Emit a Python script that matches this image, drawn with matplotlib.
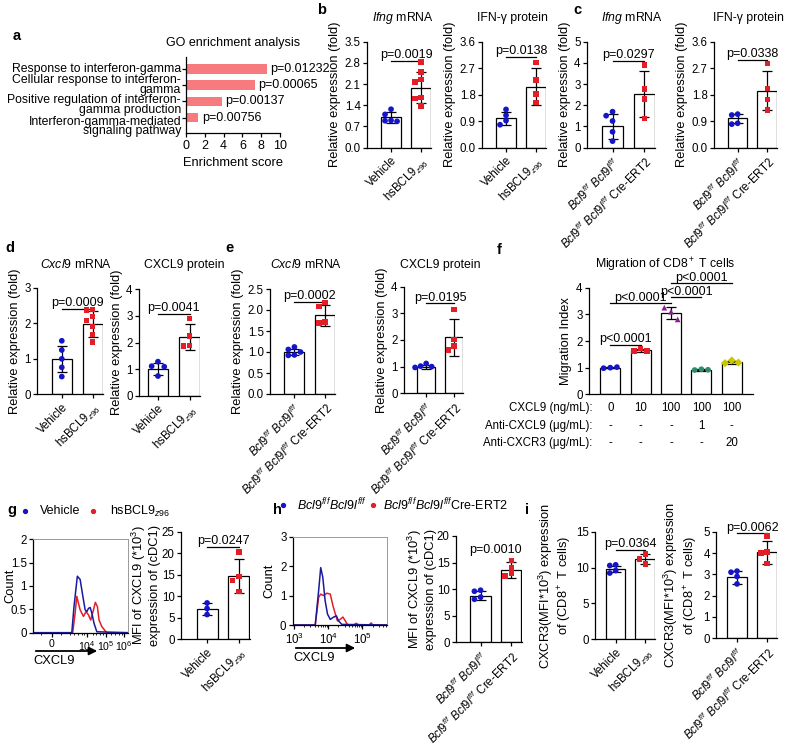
import numpy as np
import matplotlib
matplotlib.use('Agg')
import matplotlib.pyplot as plt
from matplotlib.patches import FancyArrowPatch
from matplotlib.lines import Line2D

plt.rcParams['font.family'] = ['Liberation Sans', 'DejaVu Sans']
plt.rcParams['mathtext.fontset'] = 'custom'
plt.rcParams['mathtext.rm'] = 'Liberation Sans'
plt.rcParams['mathtext.it'] = 'Liberation Sans:italic'
plt.rcParams['mathtext.bf'] = 'Liberation Sans:bold'
plt.rcParams['font.size'] = 8
plt.rcParams['axes.linewidth'] = 0.9
plt.rcParams['xtick.major.width'] = 0.9
plt.rcParams['ytick.major.width'] = 0.9
plt.rcParams['xtick.major.size'] = 3
plt.rcParams['ytick.major.size'] = 3
plt.rcParams['xtick.major.pad'] = 2
plt.rcParams['ytick.major.pad'] = 1.5

# ---------------- data ----------------
go_terms = ["Response to interferon-gamma",
            "Cellular response to interferon-\ngamma",
            "Positive regulation of interferon-\ngamma production",
            "Interferon-gamma-mediated\nsignaling pathway"]
go_scores = [8.6, 7.3, 3.8, 1.3]
go_pvals = ["p=0.01232", "p=0.00065", "p=0.00137", "p=0.00756"]

lab_hs = ["Vehicle", r"hsBCL9$_{z96}$"]
lab_ko = [r"$\mathit{Bcl9}^{f/f}\ \mathit{Bcl9l}^{f/f}$",
          r"$\mathit{Bcl9}^{f/f}\ \mathit{Bcl9l}^{f/f}$ Cre-ERT2"]

# b
b_mrna_veh = [1.27, 1.10, 0.90, 0.89, 0.87]
b_mrna_hs = [2.83, 2.50, 2.26, 2.17, 1.66, 1.62, 1.38]
b_mrna_mean = [1.0, 1.98]
b_mrna_sd = [0.18, 0.52]
b_prot_veh = [1.30, 1.10, 0.92, 0.78]
b_prot_hs = [2.90, 2.30, 1.83, 1.53]
b_prot_mean = [1.0, 2.07]
b_prot_sd = [0.22, 0.62]
# c
c_mrna_wt = [1.70, 1.51, 1.26, 0.75, 0.31]
c_mrna_ko = [3.90, 2.77, 2.30, 1.38]
c_mrna_mean = [1.0, 2.52]
c_mrna_sd = [0.60, 1.08]
c_prot_wt = [1.14, 1.11, 0.83, 0.80]
c_prot_ko = [2.86, 2.01, 1.64, 1.28]
c_prot_mean = [1.0, 1.94]
c_prot_sd = [0.15, 0.67]
# d
d_mrna_veh = [1.51, 1.25, 1.00, 0.76, 0.50]
d_mrna_hs = [2.40, 2.38, 2.19, 2.09, 1.92, 1.69, 1.48]
d_mrna_mean = [1.0, 1.98]
d_mrna_sd = [0.37, 0.36]
d_prot_veh = [1.28, 1.11, 1.09, 0.74]
d_prot_hs = [2.91, 2.24, 1.89, 1.87]
d_prot_mean = [1.0, 2.2]
d_prot_sd = [0.24, 0.48]
# e
e_mrna_wt = [1.12, 1.06, 1.00, 0.93, 0.92]
e_mrna_ko = [2.18, 2.08, 1.71, 1.69]
e_mrna_mean = [1.0, 1.87]
e_mrna_sd = [0.08, 0.25]
e_prot_wt = [1.12, 1.02, 1.00, 0.97]
e_prot_ko = [3.15, 2.02, 1.78, 1.62]
e_prot_mean = [1.0, 2.1]
e_prot_sd = [0.08, 0.70]
# f
f_points = [[0.98, 1.00, 1.02], [1.63, 1.72, 1.62], [3.25, 3.10, 2.81],
            [0.91, 0.94, 0.92], [1.17, 1.27, 1.19]]
f_mean = [1.0, 1.65, 3.05, 0.92, 1.2]
f_sd = [0.03, 0.06, 0.21, 0.03, 0.05]
f_cxcl9 = ["0", "10", "100", "100", "100"]
f_anti_cxcl9 = ["-", "-", "-", "1", "-"]
f_anti_cxcr3 = ["-", "-", "-", "-", "20"]
f_row_labels = ["CXCL9 (ng/mL):", "Anti-CXCL9 (\u03bcg/mL):", "Anti-CXCR3 (\u03bcg/mL):"]
f_comparisons = [(0, 1, 1.85), (0, 2, 3.41), (2, 3, 3.64), (2, 4, 4.16)]
# g
g_hist_x = [1.10, 3.17, 3.29, 3.47, 3.62, 3.71, 3.80, 3.89, 3.98, 4.07, 4.16, 4.25, 4.37, 4.52, 6.20]
g_hist_blue = [0, 0, 0.56, 1.21, 1.14, 0.92, 0.70, 0.49, 0.45, 0.52, 0.54, 0.42, 0.20, 0.02, 0]
g_hist_rx = [1.10, 3.22, 3.35, 3.44, 3.53, 3.62, 3.80, 3.94, 4.07, 4.19, 4.34, 4.44, 4.55, 4.64, 4.79, 4.97, 5.06, 6.20]
g_hist_red = [0, 0, 0.42, 0.78, 0.63, 0.49, 0.35, 0.45, 0.38, 0.27, 0.49, 0.65, 0.56, 0.27, 0.13, 0.04, 0, 0]
g_veh = [8.4, 7.1, 5.7]
g_hs = [20.3, 14.5, 13.7, 11.0]
g_mean = [7.0, 14.7]
g_sd = [1.3, 4.0]
# h (log10 of CXCL9 intensity)
h_hist_bx = [2.96, 3.62, 3.72, 3.78, 3.84, 3.91, 3.98, 4.06, 4.16, 4.24, 4.30, 4.40, 5.73]
h_hist_blue = [0, 0, 1.17, 1.95, 1.63, 0.82, 0.37, 0.19, 0.27, 0.31, 0.14, 0.02, 0]
h_hist_rx = [2.96, 3.62, 3.72, 3.78, 3.86, 3.96, 4.06, 4.14, 4.21, 4.27, 4.35, 4.43, 4.50, 4.57,
             4.75, 4.82, 4.89, 5.19, 5.26, 5.31, 5.73]
h_hist_red = [0, 0, 0.94, 1.05, 1.00, 1.08, 1.05, 0.65, 0.37, 0.14, 0.19, 0.27, 0.14, 0,
              0, 0.06, 0, 0, 0.07, 0, 0]
h_wt = [9.8, 9.6, 8.5, 8.1]
h_ko = [15.4, 14.0, 13.0, 12.5]
h_mean = [8.8, 13.6]
h_sd = [0.9, 1.5]
# i
i_veh = [10.4, 10.3, 9.6, 9.25]
i_hs = [11.9, 11.2, 10.5]
i1_mean = [9.85, 11.2]
i1_sd = [0.45, 0.75]
i_wt = [3.15, 3.10, 2.90, 2.55]
i_ko = [4.80, 4.05, 4.00, 3.50]
i2_mean = [2.86, 4.03]
i2_sd = [0.30, 0.55]

BLUE = '#1414C8'
RED = '#E41E26'
F_COLORS = [BLUE, RED, '#8E1E8E', '#2E8B6E', '#C8C800']
F_MARKERS = ['o', 's', '^', 'o', 'D']

TICK_FS = 8.3
LAB_FS = 9.3
TITLE_FS = 8.8
P_FS = 9

W, H = 790, 747
fig = plt.figure(figsize=(W / 100, H / 100), dpi=100)


def add_ax(l, t, r, b):
    return fig.add_axes([l / W, 1 - b / H, (r - l) / W, (b - t) / H])


def ftxt(x, y, s, **kw):
    kw.setdefault('ha', 'center')
    kw.setdefault('va', 'center')
    return fig.text(x / W, 1 - y / H, s, **kw)


def swarm(vals, ythr, step=0.2, xthr=0.19):
    vals = np.asarray(vals, float)
    order = np.argsort(vals)[::-1]
    placed = []
    offs = np.zeros(len(vals))
    for i in order:
        chosen = 0
        for c in [0, -step, step, -2 * step, 2 * step]:
            if all(not (abs(vals[i] - vals[j]) < ythr and abs(c - oj) < xthr) for j, oj in placed):
                chosen = c
                break
        offs[i] = chosen
        placed.append((i, chosen))
    return offs


def style(ax):
    ax.spines['top'].set_visible(False)
    ax.spines['right'].set_visible(False)
    ax.tick_params(labelsize=TICK_FS)


def barpanel(ax, groups, means, sds, colors, markers, ymax, ystep, fmt, labels,
             ylabel=None, xlim=(-0.8, 1.33), pline=None, ptext=None, pnoline=None,
             ylabel_x=None):
    style(ax)
    for i, (pts, m, s, c, mk) in enumerate(zip(groups, means, sds, colors, markers)):
        ax.bar(i, m, width=0.66, color='white', edgecolor='black', lw=0.9, zorder=1)
        ax.errorbar(i, m, yerr=s, color='black', capsize=3.5, lw=0.9, capthick=0.9, zorder=3)
        offs = swarm(pts, 0.05 * ymax)
        ax.scatter(i + offs, pts, s=17 if mk == 'o' else 15, marker=mk, color=c,
                   edgecolor='none', zorder=4)
    ax.set_xlim(*xlim)
    ax.set_ylim(0, ymax)
    ticks = np.arange(0, ymax + 1e-9, ystep)
    ax.set_yticks(ticks)
    ax.set_yticklabels([fmt.format(t) for t in ticks])
    ax.set_xticks(range(len(groups)))
    ax.set_xticklabels(labels, rotation=45, ha='right', rotation_mode='anchor', fontsize=TICK_FS)
    if ylabel:
        ax.set_ylabel(ylabel, fontsize=LAB_FS, labelpad=2.5, linespacing=1.1)
        if ylabel_x is not None:
            ax.yaxis.set_label_coords(ylabel_x, 0.5)
    if pline is not None:
        ax.plot([0, 1], [pline, pline], color='black', lw=0.9)
        ax.annotate(ptext, (0.5, pline), xytext=(0, 2), textcoords='offset points',
                    ha='center', va='baseline', fontsize=P_FS)
    if pnoline is not None:
        ax.text(0.5, pnoline, ptext, ha='center', va='center', fontsize=P_FS)


REL = "Relative expression (fold)"

# ---------------- panel a ----------------
ax = add_ax(186, 57, 280, 133)
style(ax)
ypos = np.arange(len(go_terms))
ax.barh(ypos, go_scores, height=0.6, color='#F77B7E')
for y, v, p in zip(ypos, go_scores, go_pvals):
    ax.text(v + 0.4, y, p, va='center', ha='left', fontsize=9)
ax.set_ylim(len(go_terms) - 0.05, -0.75)
ax.set_xlim(0, 10)
ax.set_xticks([0, 2, 4, 6, 8, 10])
ax.set_yticks(ypos)
ax.set_yticklabels([])
ax.tick_params(labelsize=9)
ax.set_xlabel("Enrichment score", fontsize=LAB_FS, labelpad=4)
go_first_line_px = [69, 80, 100, 121.5]
for term, y0 in zip(go_terms, go_first_line_px):
    for k, line in enumerate(term.split("\n")):
        ftxt(181, y0 + 9.8 * k, line, ha='right', fontsize=8.8)
ftxt(233, 43, "GO enrichment analysis", fontsize=9)

# ---------------- panel b ----------------
ax = add_ax(367, 41.7, 431, 147.7)
barpanel(ax, [b_mrna_veh, b_mrna_hs], b_mrna_mean, b_mrna_sd, [BLUE, RED], ['o', 's'],
         3.5, 0.7, "{:.1f}", lab_hs, REL, pline=2.86, ptext="p=0.0019")
ftxt(403, 18, r"$\mathit{Ifng}$ mRNA", fontsize=TITLE_FS)
ax = add_ax(482, 41.7, 546, 147.7)
barpanel(ax, [b_prot_veh, b_prot_hs], b_prot_mean, b_prot_sd, [BLUE, RED], ['o', 's'],
         3.6, 0.9, "{:.1f}", lab_hs, REL, pline=3.09, ptext="p=0.0138")
ftxt(512, 18, "IFN-\u03b3 protein", fontsize=TITLE_FS)

# ---------------- panel c ----------------
ax = add_ax(587, 41.7, 655, 147.7)
barpanel(ax, [c_mrna_wt, c_mrna_ko], c_mrna_mean, c_mrna_sd, [BLUE, RED], ['o', 's'],
         5, 1, "{:.0f}", lab_ko, REL, pline=4.09, ptext="p=0.0297")
ftxt(632, 18, r"$\mathit{Ifng}$ mRNA", fontsize=TITLE_FS)
ax = add_ax(714, 41.7, 777, 147.7)
barpanel(ax, [c_prot_wt, c_prot_ko], c_prot_mean, c_prot_sd, [BLUE, RED], ['o', 's'],
         3.6, 0.9, "{:.1f}", lab_ko, REL, pline=2.98, ptext="p=0.0338")
ftxt(748, 18, "IFN-\u03b3 protein", fontsize=TITLE_FS)

# ---------------- panel d ----------------
ax = add_ax(37, 288, 103, 394.3)
barpanel(ax, [d_mrna_veh, d_mrna_hs], d_mrna_mean, d_mrna_sd, [BLUE, RED], ['o', 's'],
         3, 1, "{:.0f}", lab_hs, REL, pline=2.42, ptext="p=0.0009")
ftxt(76, 265, r"$\mathit{Cxcl9}$ mRNA", fontsize=TITLE_FS)
ax = add_ax(139, 289.3, 200, 395.7)
barpanel(ax, [d_prot_veh, d_prot_hs], d_prot_mean, d_prot_sd, [BLUE, RED], ['o', 's'],
         4, 1, "{:.0f}", lab_hs, REL, xlim=(-0.6, 1.33), pline=3.07, ptext="p=0.0041")
ftxt(184, 265, "CXCL9 protein", fontsize=TITLE_FS)

# ---------------- panel e ----------------
ax = add_ax(270, 289, 335, 394)
barpanel(ax, [e_mrna_wt, e_mrna_ko], e_mrna_mean, e_mrna_sd, [BLUE, RED], ['o', 's'],
         2.5, 0.5, "{:.1f}", lab_ko, REL, pline=2.2, ptext="p=0.0002")
ftxt(306, 265, r"$\mathit{Cxcl9}$ mRNA", fontsize=TITLE_FS)
ax = add_ax(404, 286.7, 463, 393.3)
barpanel(ax, [e_prot_wt, e_prot_ko], e_prot_mean, e_prot_sd, [BLUE, RED], ['o', 's'],
         4, 1, "{:.0f}", lab_ko, REL, pline=3.37, ptext="p=0.0195")
ftxt(440, 265, "CXCL9 protein", fontsize=TITLE_FS)

# ---------------- panel f ----------------
ax = add_ax(589, 287.7, 753, 394.3)
style(ax)
for i, (pts, m, s, c, mk) in enumerate(zip(f_points, f_mean, f_sd, F_COLORS, F_MARKERS)):
    ax.bar(i, m, width=0.66, color='white', edgecolor='black', lw=0.9, zorder=1)
    ax.errorbar(i, m, yerr=s, color='black', capsize=3.5, lw=0.9, capthick=0.9, zorder=3)
    ax.scatter(i + np.linspace(-0.22, 0.22, len(pts)), pts, s=17, marker=mk,
               color=c, edgecolor='none', zorder=4)
ax.set_xlim(-0.7, 4.7)
ax.set_ylim(0, 4)
ax.set_yticks([0, 1, 2, 3, 4])
ax.set_xticks(range(5))
ax.set_xticklabels([])
ax.tick_params(axis='x', length=0)
ax.set_ylabel("Migration Index", fontsize=LAB_FS, labelpad=3)
for a_, b_, yv in f_comparisons:
    ax.plot([a_, b_], [yv, yv], color='black', lw=0.9, clip_on=False)
    ax.annotate("p<0.0001", ((a_ + b_) / 2, yv), xytext=(0, 2), textcoords='offset points',
                ha='center', va='baseline', fontsize=P_FS, annotation_clip=False)
tr = ax.get_xaxis_transform()
for row, (lab, vals) in enumerate(zip(f_row_labels, [f_cxcl9, f_anti_cxcl9, f_anti_cxcr3])):
    yy = [-0.129, -0.30, -0.456][row]
    ax.text(-0.58, yy, lab, transform=tr, ha='right', va='center', fontsize=TICK_FS)
    for i, v in enumerate(vals):
        ax.text(i, yy, v, transform=tr, ha='center', va='center', fontsize=TICK_FS)
ftxt(665, 265, r"Migration of CD8$^+$ T cells", fontsize=TITLE_FS)

# ---------------- panel g ----------------
ax = add_ax(33, 539.3, 128, 632.7)
ax.plot(g_hist_rx, g_hist_red, color=RED, lw=1.1)
ax.plot(g_hist_x, g_hist_blue, color='#1A1A9E', lw=1.1)
ax.set_xlim(1.08, 6.2)
ax.set_ylim(0, 2)
ax.set_yticks([0, 0.5, 1, 1.5, 2])
ax.set_yticklabels(["0", "0.5", "1", "1.5", "2"])
ax.set_xticks([2.1, 4, 5, 6])
ax.set_xticklabels(["0", r"10$^4$", r"10$^5$", r"10$^6$"])
ax.set_xticks([1.5, 2.6, 3.1, 3.3, 3.5, 3.7, 3.85, 4.3, 4.5, 4.7, 4.85, 5.3, 5.5, 5.7, 5.85], minor=True)
ax.tick_params(axis='x', which='minor', length=1.5)
ax.tick_params(labelsize=TICK_FS)
ax.tick_params(axis='x', labelsize=7.6, pad=1.5)
for sp in ['top', 'right']:
    ax.spines[sp].set_color('#999999')
    ax.spines[sp].set_linewidth(0.7)
ax.set_ylabel("Count", fontsize=LAB_FS)
ax.yaxis.set_label_coords(-0.17, 0.5)
fig.add_artist(FancyArrowPatch((33 / W, 1 - 651 / H), (100 / W, 1 - 651 / H), transform=fig.transFigure,
                               arrowstyle='-|>', mutation_scale=12, lw=1.3, color='black'))
ftxt(33, 661, "CXCL9", ha='left', fontsize=LAB_FS)
# legend g
fig.add_artist(Line2D([25 / W], [1 - 511 / H], marker='o', color=BLUE, ms=2.8, transform=fig.transFigure))
ftxt(40, 511, "Vehicle", ha='left', fontsize=9)
fig.add_artist(Line2D([93 / W], [1 - 511 / H], marker='o', color=RED, ms=2.8, transform=fig.transFigure))
ftxt(110, 511, r"hsBCL9$_{z96}$", ha='left', fontsize=9)

ax = add_ax(181, 531.7, 250, 639)
barpanel(ax, [g_veh, g_hs], g_mean, g_sd, [BLUE, RED], ['o', 's'],
         25, 5, "{:.0f}", lab_hs, "MFI of CXCL9 (*10$^3$)\nexpression of (cDC1)",
         xlim=(-0.82, 1.35), pline=21.5, ptext="p=0.0247", ylabel_x=-0.29)

# ---------------- panel h ----------------
ax = add_ax(292.7, 536.7, 387.3, 625)
ax.plot(10 ** np.asarray(h_hist_rx), h_hist_red, color=RED, lw=1.1)
ax.plot(10 ** np.asarray(h_hist_bx), h_hist_blue, color='#1A1A9E', lw=1.1)
ax.set_xscale('log')
ax.set_xlim(10 ** 2.96, 10 ** 5.73)
ax.set_ylim(0, 3)
ax.set_yticks([0, 1, 2, 3])
ax.set_xticks([1e3, 1e4, 1e5])
ax.set_xticklabels([r"10$^3$", r"10$^4$", r"10$^5$"])
ax.tick_params(labelsize=TICK_FS)
ax.tick_params(axis='x', which='minor', length=1.5)
for sp in ['top', 'right']:
    ax.spines[sp].set_color('#999999')
    ax.spines[sp].set_linewidth(0.7)
ax.set_ylabel("Count", fontsize=LAB_FS, labelpad=3)
fig.add_artist(FancyArrowPatch((293 / W, 1 - 648 / H), (358 / W, 1 - 648 / H), transform=fig.transFigure,
                               arrowstyle='-|>', mutation_scale=12, lw=1.3, color='black'))
ftxt(293, 658, "CXCL9", ha='left', fontsize=LAB_FS)
fig.add_artist(Line2D([283 / W], [1 - 505 / H], marker='o', color=BLUE, ms=2.8, transform=fig.transFigure))
ftxt(297, 505, r"$\mathit{Bcl9}^{f/f}\mathit{Bcl9l}^{f/f}$", ha='left', fontsize=9)
fig.add_artist(Line2D([373 / W], [1 - 505 / H], marker='o', color=RED, ms=2.8, transform=fig.transFigure))
ftxt(383, 505, r"$\mathit{Bcl9}^{f/f}\mathit{Bcl9l}^{f/f}$Cre-ERT2", ha='left', fontsize=9)

ax = add_ax(456, 536, 522, 642.3)
barpanel(ax, [h_wt, h_ko], h_mean, h_sd, [BLUE, RED], ['o', 's'],
         20, 5, "{:.0f}", lab_ko, "MFI of CXCL9 (*10$^3$)\nexpression of (cDC1)",
         xlim=(-0.8, 1.35), pnoline=17.4, ptext="p=0.0010", ylabel_x=-0.29)

# ---------------- panel i ----------------
ax = add_ax(595, 532, 655, 639)
barpanel(ax, [i_veh, i_hs], i1_mean, i1_sd, [BLUE, RED], ['o', 's'],
         15, 5, "{:.0f}", lab_hs, "CXCR3(MFI*10$^3$) expression\nof (CD8$^+$ T cells)",
         xlim=(-0.7, 1.33), pline=12.5, ptext="p=0.0364", ylabel_x=-0.35)
ax = add_ax(716, 531.7, 777, 638.3)
barpanel(ax, [i_wt, i_ko], i2_mean, i2_sd, [BLUE, RED], ['o', 's'],
         5, 1, "{:.0f}", lab_ko, "CXCR3(MFI*10$^3$) expression\nof (CD8$^+$ T cells)",
         xlim=(-0.7, 1.33), pline=4.92, ptext="p=0.0062", ylabel_x=-0.27)

# panel letters
for letter, (x, y) in {'a': (13, 36), 'b': (317, 10), 'c': (573, 10), 'd': (5, 248),
                       'e': (225, 248), 'f': (497, 250), 'g': (7, 510), 'h': (273, 510),
                       'i': (525, 510)}.items():
    ftxt(x, y, letter, fontsize=10.5, fontweight='bold', ha='left')

fig.savefig('out.png', dpi=100, facecolor='white')
